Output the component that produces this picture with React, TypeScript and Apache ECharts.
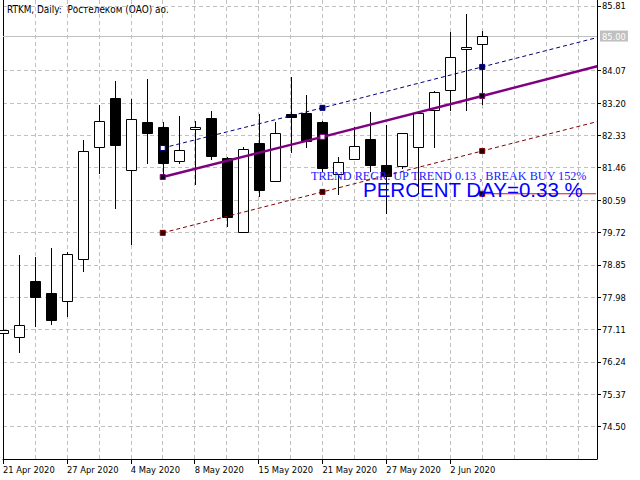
import React, { useEffect, useRef } from 'react';
import * as echarts from 'echarts';

// ---- data ----
const dates = [
  '21 Apr 2020', '22 Apr 2020', '23 Apr 2020', '24 Apr 2020', '27 Apr 2020', '28 Apr 2020',
  '29 Apr 2020', '30 Apr 2020', '4 May 2020', '5 May 2020', '6 May 2020', '7 May 2020',
  '8 May 2020', '12 May 2020', '13 May 2020', '14 May 2020', '15 May 2020', '18 May 2020',
  '19 May 2020', '20 May 2020', '21 May 2020', '22 May 2020', '25 May 2020', '26 May 2020',
  '27 May 2020', '28 May 2020', '29 May 2020', '1 Jun 2020', '2 Jun 2020', '3 Jun 2020', '4 Jun 2020',
];
const opens = [77.02, 76.91, 78.42, 78.09, 77.88, 79.01, 82.02, 83.34, 81.40, 82.69, 82.56, 81.64, 82.50, 82.80, 81.72, 79.73, 82.13, 81.11, 82.91, 82.93, 82.69, 81.29, 81.70, 82.23, 81.54, 81.51, 82.02, 83.01, 83.55, 84.65, 84.79];
const closes = [77.10, 77.23, 77.99, 77.37, 79.14, 81.91, 82.72, 82.07, 82.77, 82.40, 81.59, 81.94, 82.56, 81.78, 80.14, 81.97, 80.86, 82.40, 82.83, 82.19, 81.46, 81.62, 82.05, 81.54, 81.24, 82.40, 82.93, 83.50, 84.44, 84.71, 85.00];
const lows = [77.02, 76.51, 77.21, 77.26, 77.48, 78.69, 81.32, 80.38, 79.41, 81.59, 81.32, 81.59, 81.02, 81.70, 79.90, 79.73, 80.70, 81.11, 81.89, 82.02, 81.37, 80.76, 81.70, 81.37, 80.25, 81.45, 80.78, 82.02, 83.01, 83.01, 83.17];
const highs = [77.10, 79.12, 79.06, 79.30, 79.20, 82.21, 83.15, 83.79, 83.31, 83.85, 82.69, 82.85, 82.72, 82.99, 81.75, 82.02, 82.91, 82.69, 83.90, 83.42, 82.72, 81.75, 82.56, 82.96, 82.61, 82.40, 82.93, 83.53, 85.11, 85.60, 85.14];

const yTicks = [74.50, 75.37, 76.24, 77.11, 77.98, 78.85, 79.72, 80.59, 81.46, 82.33, 83.20, 84.07, 85.81];
const xLabelIdx = [0, 4, 8, 12, 16, 20, 24, 28];

// regression channel (bar index, price)
const regrX = [10, 20, 30, 37.2];
const regrMid = [81.21, 82.29, 83.39, 84.19];
const regrUpper = [81.99, 83.07, 84.17, 84.96];
const regrLower = [79.71, 80.81, 81.91, 82.70];
const breakX = [30, 37.125];
const breakLevel = [80.76, 80.76];
const lastPrice = 85.0;

const headerText = 'RTKM, Daily:  Ростелеком (ОАО) ао.';
const trendText = 'TREND REGR. UP TREND 0.13 , BREAK BUY 152%';
const percentText = 'PERCENT DAY=0.33 %';

const Y_MIN = 73.63;
const Y_MAX = 85.969;
const X_MAX = 37.1875;

const FONT = "'DejaVu Sans Condensed', 'Liberation Sans', Arial, sans-serif";
const GRID_COLOR = '#C0C0C0';

function markerItems(xs: number[], ys: number[], styles: any[]) {
  return xs.map((x, k) => {
    const st = styles[k];
    if (!st) return { value: [x, ys[k]], symbol: 'none' };
    return { value: [x, ys[k]], symbol: 'rect', symbolSize: 5, itemStyle: { color: st[0], borderColor: st[1], borderWidth: 1 } };
  });
}

export default function App() {
  const ref = useRef<HTMLDivElement>(null);
  useEffect(() => {
    if (!ref.current) return;
    const chart = echarts.init(ref.current, undefined, { renderer: 'svg' });
    const candleData = dates.map((_, i) => [i, opens[i], closes[i], lows[i], highs[i]]);

    const purple = '#800080';
    const navy = '#000080';
    const maroon = '#800000';

    const option: any = {
      animation: false,
      backgroundColor: '#ffffff',
      textStyle: { fontFamily: FONT },
      grid: { left: 2, right: 43, top: 0, bottom: 21, containLabel: false },
      xAxis: [
        {
          type: 'value', min: 0, max: X_MAX, position: 'bottom',
          axisLine: { show: true, onZero: false, lineStyle: { color: '#000', width: 1 } },
          axisTick: { show: true, customValues: xLabelIdx, length: 5, lineStyle: { color: '#000' } },
          axisLabel: {
            show: true, customValues: xLabelIdx, align: 'left', margin: 5.5,
            color: '#000', fontSize: 9.3, fontFamily: FONT,
            formatter: (v: number) => dates[Math.round(v)] ?? '',
          },
          splitLine: { show: false },
        },
        {
          type: 'value', min: 0, max: X_MAX, interval: 2, position: 'top',
          axisLine: { show: false }, axisTick: { show: false }, axisLabel: { show: false },
          splitLine: { show: true, showMinLine: false, showMaxLine: false, lineStyle: { color: GRID_COLOR, width: 1, type: [4, 3] } },
        },
      ],
      yAxis: [
        {
          type: 'value', min: Y_MIN, max: Y_MAX, position: 'right', scale: true,
          axisLine: { show: true, onZero: false, lineStyle: { color: '#000', width: 1 } },
          axisTick: { show: true, customValues: yTicks, length: 4, lineStyle: { color: '#000' } },
          axisLabel: {
            show: true, customValues: yTicks, margin: 5, color: '#000', fontSize: 9.3, fontFamily: FONT,
            formatter: (v: number) => v.toFixed(2),
          },
          splitLine: { show: true, lineStyle: { color: GRID_COLOR, width: 1, type: [4, 3] } },
        },
        {
          type: 'value', min: Y_MIN, max: Y_MAX, position: 'left', scale: true,
          axisLine: { show: true, onZero: false, lineStyle: { color: '#000', width: 1 } },
          axisTick: { show: false }, axisLabel: { show: false }, splitLine: { show: false },
        },
      ],
      series: [
        {
          type: 'custom',
          name: 'RTKM',
          xAxisIndex: 0, yAxisIndex: 0,
          clip: false,
          z: 2,
          encode: { x: 0, y: [1, 2, 3, 4] },
          data: candleData,
          renderItem: (params: any, api: any) => {
            const i = api.value(0) as number;
            const o = api.value(1) as number;
            const c = api.value(2) as number;
            const l = api.value(3) as number;
            const h = api.value(4) as number;
            const pO = api.coord([i, o]);
            const cx = Math.round(pO[0]) + 0.5;
            const yO = pO[1];
            const yC = api.coord([i, c])[1];
            const yL = api.coord([i, l])[1];
            const yH = api.coord([i, h])[1];
            const top = Math.round(Math.min(yO, yC)) + 0.5;
            let bot = Math.round(Math.max(yO, yC)) + 0.5;
            if (bot - top < 2) bot = top + 2;
            const bull = c >= o;
            return {
              type: 'group',
              children: [
                { type: 'line', shape: { x1: cx, y1: Math.round(yH), x2: cx, y2: Math.round(yL) + 1 }, style: { stroke: '#000', lineWidth: 1 } },
                { type: 'rect', shape: { x: cx - 5, y: top, width: 10, height: bot - top }, style: { fill: bull ? '#fff' : '#000', stroke: '#000', lineWidth: 1 } },
              ],
            };
          },
          markLine: {
            silent: true, symbol: 'none', animation: false,
            data: [{ yAxis: lastPrice }],
            lineStyle: { color: GRID_COLOR, type: 'solid', width: 1 },
            label: {
              show: true, position: 'end', distance: 3, formatter: () => lastPrice.toFixed(2),
              color: '#fff', backgroundColor: GRID_COLOR, padding: [1, 2, 0, 2],
              fontSize: 9.3, fontFamily: FONT, lineHeight: 10,
            },
            z: 1,
          },
        },
        {
          type: 'line', name: 'upper', xAxisIndex: 0, yAxisIndex: 0, z: 4,
          data: markerItems(regrX, regrUpper, [['#fff', navy], ['#000050', navy], ['#000050', navy], null]),
          lineStyle: { color: navy, width: 1, type: [4, 3] },
          showSymbol: true,
        },
        {
          type: 'line', name: 'lower', xAxisIndex: 0, yAxisIndex: 0, z: 4,
          data: markerItems(regrX, regrLower, [['#200000', maroon], ['#200000', maroon], ['#200000', maroon], null]),
          lineStyle: { color: maroon, width: 1, type: [4, 3] },
          showSymbol: true,
        },
        {
          type: 'line', name: 'regression', xAxisIndex: 0, yAxisIndex: 0, z: 5,
          data: markerItems(regrX, regrMid, [['#000', purple], ['#fff', purple], ['#000', purple], null]),
          lineStyle: { color: purple, width: 2.5 },
          showSymbol: true,
        },
        {
          type: 'line', name: 'break', xAxisIndex: 0, yAxisIndex: 0, z: 5,
          data: markerItems(breakX, breakLevel, [['#000', '#C00000'], null]),
          lineStyle: { color: '#FF0000', width: 1.2 },
          showSymbol: true,
        },
      ],
      graphic: [
        {
          type: 'text', x: 7, y: 9.5, z: 10,
          style: { text: headerText, fill: '#000', fontSize: 9.9, fontFamily: FONT, verticalAlign: 'middle' },
        },
        {
          type: 'text', x: 311, y: 176.3, z: 10,
          style: { text: trendText, fill: '#1a1aff', fontSize: 12.2, fontFamily: "'Liberation Serif', 'Times New Roman', serif", verticalAlign: 'middle' },
        },
        {
          type: 'text', x: 363, y: 189.9, z: 10,
          style: { text: percentText, fill: '#0000FF', fontSize: 20.5, fontFamily: "'Liberation Sans', Arial, sans-serif", verticalAlign: 'middle' },
        },
      ],
    };
    chart.setOption(option);
    return () => chart.dispose();
  }, []);
  return (
    <div
      ref={ref}
      style={{ position: 'fixed', left: 0, top: 0, width: 640, height: 480, background: '#fff' }}
    />
  );
}
